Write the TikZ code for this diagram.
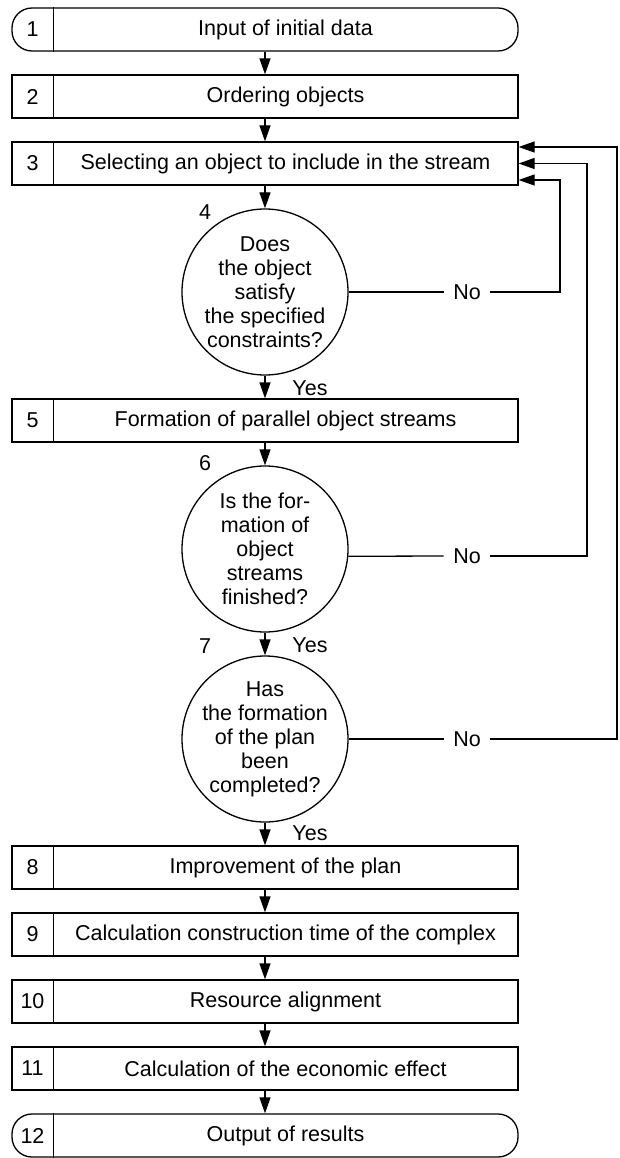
\documentclass[tikz,border=0pt]{standalone}
\usepackage{fontspec}
\setmainfont{Liberation Sans}
\usetikzlibrary{arrows.meta}

\begin{document}
\begin{tikzpicture}
    % 结点样式名称/.style={形状,边框,大小}
    [x=1pt, y=-1pt, line width=1.3pt, font=\fontsize{21.5}{24}\selectfont,
    StepBox/.style={draw, minimum width=506pt, minimum height=43pt, inner sep=0pt},
    EndBox/.style={StepBox, rounded corners=20pt},
    NumCell/.style={minimum width=41pt, minimum height=43pt, inner sep=0pt, anchor=west},
    AskNode/.style={circle, draw, minimum size=166pt, inner sep=-12pt, align=center},
    NoLabel/.style={inner sep=9pt},
    Flow/.style={-{Triangle[length=16pt, width=11pt]}}]

    % 画布大小
    \useasboundingbox (0,0) rectangle (620,1158);

    % 添加方框结点
    % \foreach循环: 编号/纵坐标/样式/内容
    \foreach \i/\y/\s/\t in {1/29.5/EndBox/Input of initial data,
        2/96.5/StepBox/Ordering objects,
        3/163.5/StepBox/Selecting an object to include in the stream,
        5/420.5/StepBox/Formation of parallel object streams,
        8/867.5/StepBox/Improvement of the plan,
        9/934.5/StepBox/Calculation construction time of the complex,
        10/1001.5/StepBox/Resource alignment,
        11/1068.5/StepBox/Calculation of the economic effect,
        12/1135.5/EndBox/Output of results}
    {
        \node[\s] (s\i) at (265,\y) {};
        \node[NumCell] (n\i) at (s\i.west) {\i};
        \draw (n\i.north east) -- (n\i.south east);
        \node (t\i) at (285.5,\y) {\t};
    }

    % 添加判断结点
    \node[AskNode] (c4) at (265,292) {Does\\the object\\satisfy\\the specified\\constraints?};
    \node[AskNode] (c6) at (265,549) {Is the for-\\mation of\\object\\streams\\finished?};
    \node[AskNode] (c7) at (265,739) {Has\\the formation\\of the plan\\been\\completed?};

    % 判断结点编号
    \node (k4) at (205,212) {4};
    \node (k6) at (205,463) {6};
    \node (k7) at (205,646) {7};

    % 主流程连线
    \foreach \a/\b in {s1/s2, s2/s3, s3/c4, c4/s5, s5/c6, c6/c7, c7/s8,
        s8/s9, s9/s10, s10/s11, s11/s12}
        \draw[Flow] (\a) -- (\b);

    % Yes 说明文字
    \node (y4) at (310,388) {Yes};
    \node (y6) at (310,645) {Yes};
    \node (y7) at (310,833) {Yes};

    % No 回路
    \coordinate (r4) at (560,0);
    \coordinate (r6) at (587,0);
    \coordinate (r7) at (617,0);
    \node[NoLabel] (no4) at (467,292) {No};
    \node[NoLabel] (no6) at (467,556) {No};
    \node[NoLabel] (no7) at (467,739) {No};
    \draw (c4.east) -- (no4.west);
    \draw (c6.-5) -- (no6.west);
    \draw (c7.east) -- (no7.west);
    \draw[Flow] (no4.east) -- (no4.east -| r4) |- ([yshift=-16.5pt]s3.east);
    \draw[Flow] (no6.east) -- (no6.east -| r6) |- (s3.east);
    \draw[Flow] (no7.east) -- (no7.east -| r7) |- ([yshift=16.5pt]s3.east);

\end{tikzpicture}
\end{document}
